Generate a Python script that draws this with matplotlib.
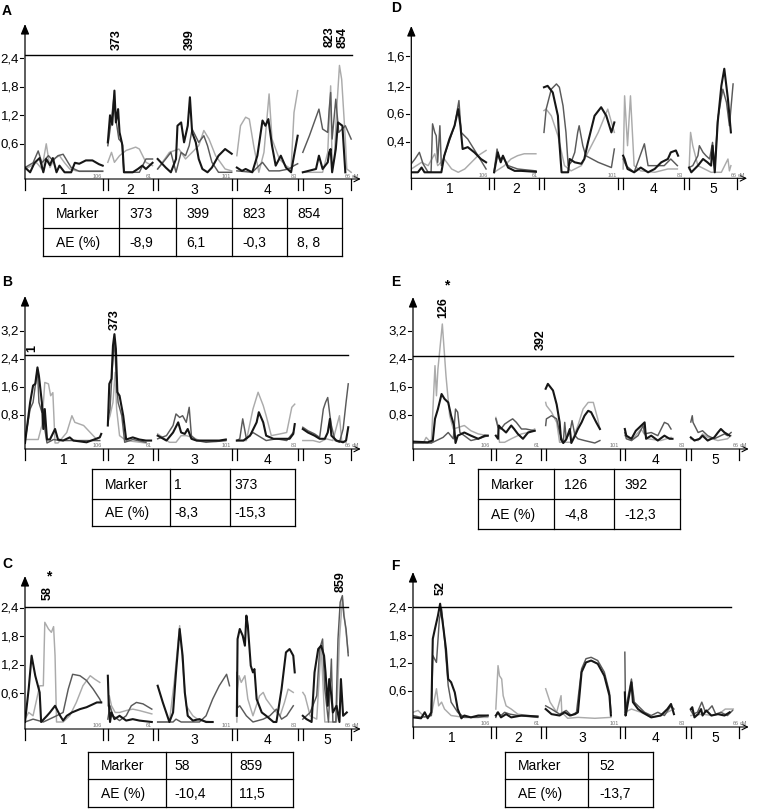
import matplotlib.pyplot as plt
import numpy as np

plt.rcParams['font.family'] = ['Liberation Sans', 'DejaVu Sans']

W, H = 757, 812
PX_CM = 0.733            # pixels per cM on every x axis
CHR_LEN = [106, 61, 101, 83, 66]
GAP = 7
CHR_OFF = [sum(CHR_LEN[:i]) + GAP * i for i in range(5)]

COL = {'k': '#161616', 'd': '#5a5a5a', 'l': '#ababab'}
LWS = {'k': 1.5, 'd': 1.05, 'l': 1.05}

# ---- LOD profiles: one list of (cM, LOD) per chromosome, three traits per panel
A_k = [
    [(0, 0.1), (7, 0), (13, 0.2), (20, 0.3), (25, 0), (29, 0.28), (34, 0.15), (38, 0.3), (43, 0), (47, 0.14), (54, 0), (63, 0), (68, 0.2), (74, 0.18), (83, 0.25), (92, 0.25), (101, 0.17), (106, 0.14)],
    [(0, 0.63), (3, 1.2), (6, 1.0), (9, 1.72), (11, 1.05), (14, 1.33), (16, 0.84), (20, 0.56), (22, 0), (34, 0), (41, 0.07), (47, 0.14), (52, 0.07), (61, 0.2)],
    [(0, 0.28), (11, 0.1), (18, 0), (25, 0.28), (27, 0.98), (32, 1.05), (36, 0.63), (41, 0.98), (44, 1.58), (47, 0.84), (52, 0.63), (56, 0.28), (61, 0.07), (68, 0), (74, 0.1), (83, 0.35), (92, 0.49), (101, 0.39)],
    [(0, 0.1), (7, 0.03), (12, 0.07), (21, 0), (28, 0.35), (35, 1.09), (39, 0.98), (43, 1.12), (48, 0.56), (53, 0.14), (60, 0.35), (67, 0.1), (74, 0), (78, 0.35), (83, 0.77)],
    [(0, 0), (18, 0.07), (22, 0.35), (27, 0.07), (34, 0.21), (36, 0.42), (38, 0.49), (40, 0), (45, 0.49), (48, 1.05), (54, 0.98), (58, 0)],
]
A_d = [
    [(0, 0.1), (11, 0.2), (18, 0.45), (23, 0.2), (32, 0.35), (38, 0.25), (45, 0.35), (52, 0.38), (59, 0.2), (63, 0.1), (74, 0.02), (106, 0.02)],
    [(0, 0.56), (5, 1.12), (8, 1.54), (11, 1.12), (15, 0.7), (19, 0.63), (22, 0), (31, 0), (43, 0), (52, 0.28), (61, 0.28)],
    [(0, 0.07), (11, 0.28), (18, 0.42), (25, 0), (32, 0.42), (38, 0.35), (43, 0.56), (47, 0.91), (56, 0.63), (63, 0.77), (68, 0.56), (74, 0.21), (83, 0), (101, 0)],
    [(0, 0.03), (21, 0), (35, 0.21), (44, 0.03), (58, 0.03), (71, 0.07), (78, 0.14), (83, 0.18)],
    [(0, 0.42), (9, 0.77), (22, 1.33), (27, 0.91), (34, 0.84), (36, 1.33), (38, 1.68), (40, 0.7), (45, 1.54), (49, 0.84), (58, 0.98), (66, 0.7)],
]
A_l = [
    [(0, 0.07), (9, 0.14), (16, 0.2), (23, 0.07), (29, 0.6), (34, 0.1), (41, 0.3), (47, 0.35), (54, 0.2), (61, 0.07), (70, 0.03), (106, 0.03)],
    [(0, 0.21), (5, 0.42), (9, 0.21), (16, 0.35), (25, 0.46), (38, 0.53), (43, 0.49), (52, 0.21), (61, 0.14)],
    [(0, 0.07), (16, 0.42), (29, 0.49), (38, 0.28), (56, 0.56), (63, 0.88), (70, 0.7), (79, 0.35), (92, 0.07), (101, 0.03)],
    [(0, 0.35), (5, 0.98), (12, 1.16), (17, 1.12), (23, 0.56), (30, 0), (37, 0.42), (44, 1.65), (48, 0.7), (58, 0.28), (67, 0.14), (74, 0.07), (78, 1.26), (83, 1.72)],
    [(0, 0), (27, 0), (34, 0.42), (38, 1.82), (40, 0.14), (43, 0.28), (46, 1.26), (50, 2.25), (53, 1.96), (58, 0.7), (60, 0.07), (66, 0)],
]

B_k = [
    [(0, 0), (7, 1.16), (11, 1.64), (14, 1.69), (17, 2.16), (19, 1.92), (23, 1.16), (25, 0.4), (27, 0.97), (30, 0.1), (34, 0.1), (41, 0.4), (45, 0.1), (52, 0.07), (61, 0.16), (66, 0.07), (84, 0.02), (102, 0.16), (104, 0.26)],
    [(0, 0.5), (2, 1.69), (5, 1.83), (7, 2.78), (9, 3.11), (11, 2.69), (13, 1.45), (16, 1.35), (21, 0.78), (25, 0.1), (34, 0.16), (43, 0.1), (52, 0.07), (59, 0.07)],
    [(0, 0.21), (12, 0.07), (21, 0.3), (28, 0.59), (32, 0.3), (37, 0.26), (41, 0.4), (46, 0.12), (53, 0.07), (66, 0.07), (84, 0.07), (93, 0.1)],
    [(0, 0.07), (9, 0.07), (18, 0.21), (27, 0.59), (30, 0.88), (36, 0.59), (40, 0.21), (50, 0.12), (63, 0.12), (72, 0.12), (77, 0.26), (79, 0.54)],
    [(0, 0.4), (7, 0.3), (16, 0.21), (23, 0.12), (30, 0.12), (34, 0.3), (37, 0.69), (39, 0.21), (46, 0.07), (55, 0.02), (59, 0.07), (62, 0.45)],
]
B_d = [
    [(0, 0.07), (7, 0.97), (11, 1.16), (17, 2.11), (19, 1.16), (23, 0.88), (25, 0.97), (27, 0.4), (30, 0), (39, 0.1), (48, 0.07), (102, 0.07)],
    [(0, 0.69), (3, 0.97), (6, 2.11), (9, 2.97), (11, 2.11), (14, 1.16), (19, 0.78), (23, 0.02), (34, 0.1), (52, 0.02)],
    [(0, 0.12), (12, 0.21), (21, 0.5), (25, 0.83), (30, 0.73), (34, 0.78), (39, 0.59), (43, 1.02), (46, 0.21), (53, 0.07), (66, 0.02), (93, 0.07)],
    [(0, 0.07), (4, 0.12), (8, 0.69), (13, 0.12), (22, 0.3), (29, 0.21), (40, 0.07), (54, 0.12), (68, 0.07), (77, 0.3)],
    [(0, 0.45), (7, 0.35), (16, 0.26), (23, 0.16), (28, 0.97), (31, 1.16), (34, 1.3), (37, 0.78), (39, 0.5), (44, 0.07), (50, 0.02), (55, 0.4), (59, 1.16), (62, 1.69)],
]
B_l = [
    [(0, 0.1), (11, 0.1), (18, 0.1), (23, 0.5), (27, 1.73), (32, 1.69), (35, 1.35), (38, 1.44), (41, 0), (45, 0), (57, 0.3), (64, 0.78), (68, 0.59), (80, 0.5), (89, 0.3), (98, 0.1)],
    [(0, 0.59), (3, 0.78), (7, 1.16), (10, 2.02), (12, 0.97), (16, 0.21), (25, 0.07), (52, 0)],
    [(0, 0.26), (7, 0.16), (16, 0.02), (25, 0.02), (32, 0.21), (39, 0.21), (48, 0.16), (57, 0.07), (80, 0.04), (93, 0.07)],
    [(0, 0.07), (13, 0.07), (22, 0.97), (29, 1.45), (36, 1.07), (40, 0.78), (47, 0.21), (59, 0.26), (68, 0.3), (75, 1.02), (79, 1.11)],
    [(0, 0.07), (14, 0.07), (23, 0.02), (32, 0.12), (41, 0.07), (50, 0.78), (53, 0.07), (59, 0.02)],
]

C_k = [
    [(0, 0), (5, 0.69), (9, 1.39), (14, 0.97), (20, 0.62), (22, 0), (30, 0.13), (34, 0.2), (41, 0.34), (48, 0.13), (52, 0.03), (57, 0.13), (64, 0.2), (75, 0.27), (84, 0.31), (98, 0.41), (104, 0.41)],
    [(0, 0.97), (1, 0.48), (3, 0), (5, 0.2), (9, 0.06), (16, 0.13), (25, 0.03), (34, 0.06), (43, 0.03), (60, 0)],
    [(0, 0.76), (7, 0.41), (16, 0), (21, 0.2), (25, 1.04), (30, 1.95), (34, 1.39), (37, 0.62), (41, 0.13), (48, 0.03), (57, 0.06), (66, 0), (75, 0)],
    [(0, 0.13), (1, 1.74), (4, 1.95), (8, 1.81), (11, 1.6), (13, 2.23), (15, 2.02), (19, 1.18), (22, 1.04), (24, 1.11), (27, 0.48), (34, 0.2), (40, 0.13), (50, 0), (54, 0), (61, 0.69), (67, 1.46), (72, 1.53), (77, 1.39), (79, 1.04)],
    [(0, 0.13), (5, 0.06), (12, 0), (16, 1.04), (21, 1.53), (25, 1.6), (29, 1.39), (31, 1.04), (34, 0.34), (36, 0.9), (39, 0.55), (41, 0.2), (46, 0.34), (50, 0), (52, 0.9), (55, 0.13), (60, 0.2)],
]
C_d = [
    [(0, 0), (11, 0.06), (25, 0), (43, 0.13), (52, 0.2), (59, 0.69), (65, 1.0), (75, 0.97), (84, 0.87), (93, 0.69), (102, 0.48), (104, 0.41)],
    [(0, 0.06), (3, 0.34), (7, 0.13), (16, 0.03), (25, 0.13), (32, 0.34), (39, 0.41), (48, 0.38), (60, 0.27)],
    [(0, 0), (21, 0), (25, 0.06), (32, 0), (57, 0), (66, 0.13), (75, 0.48), (84, 0.76), (94, 1.0), (98, 0.76)],
    [(0, 1.04), (1, 0.3), (4, 0.34), (13, 0.13), (22, 0), (36, 0.06), (45, 0.13), (54, 0.27), (61, 0.06), (68, 0.13), (77, 0.34)],
    [(0, 0.06), (10, 0.2), (19, 0.55), (23, 1.53), (27, 1.74), (30, 0.69), (35, 0), (39, 1.32), (41, 0), (45, 0), (48, 1.74), (51, 2.51), (54, 2.65), (56, 2.23), (59, 1.95), (62, 1.39)],
]
C_l = [
    [(0, 0.06), (5, 0.2), (11, 0.13), (20, 0.76), (25, 0.76), (27, 2.09), (32, 1.95), (36, 1.88), (39, 2.0), (41, 1.39), (43, 0), (52, 0), (61, 0.13), (70, 0.41), (79, 0.76), (89, 0.97), (95, 0.9), (102, 0.83)],
    [(0, 0.34), (2, 0.55), (5, 0.34), (10, 0.2), (16, 0.2), (25, 0.24), (34, 0.27), (43, 0.24), (60, 0.17)],
    [(0, 0), (16, 0), (23, 0.9), (30, 2.02), (35, 1.04), (39, 0.34), (48, 0.13), (57, 0.03), (75, 0)],
    [(0, 0), (1, 0.69), (3, 0.97), (6, 0.83), (11, 0.97), (15, 0.48), (22, 0.13), (31, 0.55), (36, 0.62), (40, 0.48), (50, 0.27), (59, 0.13), (65, 0.41), (70, 0.69), (77, 0.62)],
    [(0, 0.62), (3, 0.55), (10, 0.13), (19, 0.06), (25, 1.6), (30, 0), (46, 0), (50, 1.74), (54, 2.58), (60, 1.74), (62, 1.46)],
]

# panel D is on its own (unequal) tick scale; values are in tick-position units
D_k = [
    [(0, 0), (9, 0), (14, 0.1), (18, 0), (41, 0), (45, 0.35), (52, 0.7), (59, 0.98), (64, 1.33), (67, 0.98), (70, 0.49), (77, 0.53), (86, 0.42), (95, 0.28), (102, 0.21)],
    [(0, 0), (5, 0.42), (9, 0.21), (12, 0.35), (19, 0.1), (28, 0.03), (37, 0.03), (57, 0.01)],
    [(0, 1.79), (5, 1.82), (12, 1.68), (19, 1.19), (21, 0.63), (24, 0), (33, 0), (35, 0.28), (42, 0.21), (51, 0.18), (55, 0.28), (60, 0.63), (69, 1.19), (78, 1.37), (85, 1.19), (92, 0.84), (96, 1.05)],
    [(0, 0.35), (2, 0.28), (6, 0.07), (15, 0), (24, 0.1), (34, 0), (43, 0.07), (52, 0.21), (61, 0.28), (65, 0.42), (72, 0.46), (75, 0.35)],
    [(0, 0.1), (3, 0), (12, 0.14), (19, 0.28), (25, 0.21), (30, 0.14), (32, 0.56), (35, 0), (39, 1.05), (44, 1.82), (48, 2.18), (53, 1.54), (57, 0.84)],
]
D_d = [
    [(0, 0.18), (5, 0.28), (11, 0.42), (16, 0.18), (23, 0), (27, 0), (29, 1.02), (32, 0.84), (34, 0.77), (36, 0.21), (39, 0.98), (41, 0.14), (45, 0.35), (59, 0.98), (65, 1.51), (68, 0.84), (77, 0.7), (91, 0.35), (102, 0.07)],
    [(0, 0.03), (4, 0.49), (7, 0.28), (12, 0.32), (19, 0.14), (32, 0.07), (57, 0.03)],
    [(0, 0.84), (3, 1.33), (10, 1.75), (17, 1.86), (21, 1.79), (26, 1.4), (30, 0.84), (33, 0.14), (37, 0.21), (42, 0.42), (46, 0.84), (48, 0.98), (53, 0.56), (57, 0.35), (74, 0.21), (92, 0.1), (96, 0.49)],
    [(0, 0.28), (4, 0.14), (15, 0), (29, 0.6), (34, 0.14), (43, 0.14), (56, 0.14), (65, 0.28), (74, 0.14)],
    [(0, 0.1), (5, 0.14), (12, 0.35), (14, 0.56), (19, 0.42), (23, 0.35), (28, 0.28), (32, 0.63), (35, 0.07), (39, 1.12), (46, 1.75), (51, 1.47), (55, 0.98), (60, 1.86)],
]
D_l = [
    [(0, 0.07), (14, 0.21), (23, 0.14), (32, 0.39), (36, 0.14), (45, 0.28), (55, 0.07), (64, 0), (73, 0.07), (82, 0.21), (91, 0.35), (102, 0.46)],
    [(0, 0), (14, 0.14), (23, 0.28), (32, 0.35), (41, 0.39), (57, 0.39)],
    [(0, 1.3), (3, 1.33), (10, 1.19), (19, 0.77), (28, 0.14), (37, 0.03), (51, 0.14), (60, 0.42), (74, 0.84), (87, 1.33), (96, 0.84)],
    [(0, 0.07), (2, 1.61), (6, 0.56), (10, 1.61), (15, 0.14), (24, 0.03), (43, 0), (61, 0.07), (74, 0.07)],
    [(0, 0.07), (2, 0.84), (5, 0.56), (12, 0.14), (30, 0), (44, 0), (53, 0.28), (55, 0.03), (57, 0.14)],
]

E_k = [
    [(0, 0.04), (20, 0.02), (27, 0.07), (30, 0.69), (34, 0.97), (39, 1.4), (43, 1.26), (48, 1.16), (52, 0.78), (56, 0.5), (58, 0), (61, 0.21), (70, 0.3), (79, 0.21), (89, 0.12), (98, 0.21), (102, 0.21)],
    [(0, 0.21), (3, 0.12), (4, 0.5), (6, 0.45), (14, 0.3), (21, 0.5), (25, 0.4), (30, 0.26), (37, 0.12), (44, 0.3), (53, 0.35)],
    [(0, 1.55), (3, 1.69), (10, 1.5), (15, 1.1), (19, 0.6), (21, 0.1), (24, 0), (28, 0.1), (33, 0.4), (35, 0), (40, 0.21), (44, 0.4), (49, 0.59), (53, 0.78), (58, 0.92), (62, 0.88), (69, 0.59), (74, 0.4)],
    [(0, 0.4), (2, 0.21), (9, 0.12), (15, 0.35), (27, 0.59), (29, 0.12), (36, 0.21), (45, 0.07), (54, 0.21), (61, 0.12), (65, 0.12)],
    [(0, 0.16), (5, 0.07), (12, 0.12), (16, 0.21), (23, 0.07), (28, 0.12), (32, 0.16), (37, 0.3), (41, 0.4), (46, 0.3), (53, 0.21)],
]
E_d = [
    [(0, 0), (25, 0), (32, 0.07), (41, 0.16), (48, 0.3), (55, 0.12), (58, 0.97), (61, 0.88), (64, 0.3), (70, 0.21), (79, 0.07), (89, 0.12), (102, 0.21)],
    [(0, 0.69), (3, 0.45), (7, 0.4), (12, 0.54), (19, 0.64), (23, 0.69), (28, 0.59), (35, 0.4), (41, 0.4), (53, 0.35)],
    [(0, 0.5), (1, 0.69), (8, 0.78), (15, 0.69), (19, 0.3), (24, 0), (26, 0.59), (28, 0.12), (33, 0.3), (36, 0.64), (40, 0.21), (44, 0.12), (53, 0.07), (67, 0), (74, 0.07)],
    [(0, 0.3), (2, 0.12), (9, 0.07), (18, 0.21), (25, 0.5), (27, 0.26), (36, 0.3), (45, 0.21), (54, 0.59), (59, 0.54), (63, 0.4)],
    [(0, 0.6), (2, 0.78), (3, 0.59), (10, 0.3), (16, 0.35), (23, 0.21), (32, 0.12), (46, 0.26), (50, 0.21), (55, 0.3)],
]
E_l = [
    [(0, 0), (14, 0), (18, 0.16), (25, 0), (30, 2.21), (32, 1.35), (34, 2.11), (40, 3.4), (45, 1.92), (50, 0.78), (55, 0.4), (70, 0.5), (79, 0.35), (89, 0.26), (102, 0.21)],
    [(0, 0.73), (2, 0.59), (5, 0.02), (12, 0.02), (21, 0.12), (35, 0.26), (44, 0.3), (53, 0.4)],
    [(0, 1.16), (1, 1.07), (8, 0.88), (15, 0.59), (19, 0.02), (35, 0.02), (44, 0.5), (51, 0.97), (58, 1.16), (65, 1.16), (71, 0.69), (74, 0.4)],
    [(0, 0.21), (9, 0.07), (22, 0.4), (31, 0.12), (49, 0.07), (63, 0.16)],
    [(0, 0.12), (10, 0.07), (16, 0.26), (23, 0.16), (37, 0.07), (50, 0.12), (55, 0.21)],
]

F_k = [
    [(0, 0.02), (11, 0), (16, 0.13), (20, 0), (25, 0.13), (27, 1.72), (30, 1.94), (34, 2.22), (37, 2.48), (41, 2.01), (45, 1.5), (48, 0.85), (52, 0.78), (57, 0.56), (61, 0.2), (66, 0), (70, 0.06), (79, 0.02), (89, 0.06), (102, 0.06)],
    [(0, 0.06), (3, 0.13), (7, 0.02), (14, 0.09), (21, 0.02), (35, 0.06), (57, 0.04)],
    [(0, 0.2), (8, 0.09), (19, 0.06), (26, 0.13), (33, 0.06), (40, 0.09), (44, 0.13), (49, 1.0), (55, 1.21), (62, 1.25), (71, 1.18), (80, 0.92), (87, 0.49), (89, 0.06)],
    [(0, 0.56), (1, 0.06), (2, 0.13), (9, 0.78), (11, 0.35), (18, 0.2), (24, 0.13), (36, 0.02), (49, 0.06), (58, 0.2), (63, 0.31), (67, 0.09)],
    [(0, 0.2), (2, 0.24), (5, 0.02), (10, 0.09), (14, 0.2), (16, 0.06), (21, 0.17), (28, 0.06), (37, 0.09), (46, 0.06), (53, 0.13)],
]
F_d = [
    [(0, 0.06), (11, 0.02), (25, 0.06), (27, 1.36), (32, 1.21), (36, 2.15), (39, 2.37), (43, 1.72), (48, 0.71), (52, 0.35), (61, 0.13), (70, 0.02), (89, 0.02), (102, 0.06)],
    [(0, 0.02), (2, 0.13), (7, 0.06), (12, 0.13), (19, 0.09), (30, 0.06), (57, 0.02)],
    [(0, 0.27), (8, 0.2), (19, 0.09), (28, 0.17), (35, 0.06), (42, 0.13), (49, 1.07), (55, 1.29), (62, 1.32), (71, 1.25), (80, 1.0), (87, 0.56), (89, 0.13)],
    [(0, 1.43), (1, 0.06), (2, 0.27), (9, 0.85), (13, 0.35), (18, 0.27), (27, 0.13), (36, 0.06), (45, 0.13), (54, 0.06), (63, 0.27), (67, 0.2)],
    [(0, 0.17), (3, 0.09), (9, 0.13), (15, 0.35), (20, 0.13), (25, 0.2), (29, 0.27), (34, 0.09), (41, 0.13), (50, 0.06), (57, 0.17)],
]
F_l = [
    [(0, 0.13), (7, 0.17), (16, 0.02), (25, 0.06), (32, 0.64), (35, 0.27), (39, 0.35), (43, 0.2), (52, 0.06), (70, 0.02), (102, 0.02)],
    [(0, 0.2), (3, 1.14), (5, 0.92), (8, 0.85), (10, 0.49), (14, 0.27), (21, 0.2), (30, 0.09), (44, 0.06), (57, 0.04)],
    [(0, 0.64), (6, 0.35), (15, 0.13), (21, 0.49), (22, 0.13), (30, 0), (44, 0.02), (67, 0), (89, 0.02)],
    [(0, 0.13), (9, 0.2), (22, 0.13), (36, 0.02), (49, 0.06), (63, 0.17)],
    [(0, 0.06), (16, 0.09), (29, 0.06), (38, 0.09), (47, 0.2), (58, 0.2)],
]

# ---- tables under the panels
A_markers, A_ae = ['373', '399', '823', '854'], ['-8,9', '6,1', '-0,3', '8, 8']
B_markers, B_ae = ['1', '373'], ['-8,3', '-15,3']
C_markers, C_ae = ['58', '859'], ['-10,4', '11,5']
E_markers, E_ae = ['126', '392'], ['-4,8', '-12,3']
F_markers, F_ae = ['52'], ['-13,7']

fig = plt.figure(figsize=(W / 100, H / 100), dpi=100)


def panel(x0, top, axis_y, zero_y, ppu, curves, ticks, labels,
          thr=None, thr_end=None, marks=(), stars=()):
    bottom = axis_y + 24
    ax = fig.add_axes([x0 / W, 1 - bottom / H, 462 * PX_CM / W, (bottom - top) / H])
    ax.set_xlim(0, 462)
    ax.set_ylim((zero_y - bottom) / ppu, (zero_y - top) / ppu)
    ax.axis('off')
    py = 1.0 / ppu
    px = 1.0 / PX_CM
    ya = (zero_y - axis_y) / ppu
    ytop = (zero_y - top) / ppu

    for key in ['l', 'd', 'k']:
        for off, seg in zip(CHR_OFF, curves[key]):
            ax.plot([off + c for c, v in seg], [v for c, v in seg],
                    color=COL[key], lw=LWS[key], solid_joinstyle='round')

    # axes with arrow heads
    ax.annotate('', xy=(0, ytop), xytext=(0, ya), annotation_clip=False,
                arrowprops=dict(arrowstyle='-|>,head_length=0.6,head_width=0.25',
                                color='k', lw=0.9, shrinkA=0, shrinkB=0, mutation_scale=10))
    ax.annotate('', xy=(458, ya), xytext=(0, ya), annotation_clip=False,
                arrowprops=dict(arrowstyle='->,head_length=0.4,head_width=0.2',
                                color='k', lw=0.8, shrinkA=0, shrinkB=0, mutation_scale=10))
    for v, lab in zip(ticks, labels):
        ax.plot([-5 * px, -2 * px], [v, v], color='k', lw=0.8, clip_on=False)
        ax.text(-6 * px, v, lab, ha='right', va='center', fontsize=9.5)

    # chromosome borders, numbers and lengths
    for i, (off, ln) in enumerate(zip(CHR_OFF, CHR_LEN)):
        for b in (off, off + ln):
            ax.plot([b, b], [ya, ya - 11 * py], color='k', lw=0.9, clip_on=False)
        ax.text(off + ln / 2, ya - 10 * py, str(i + 1), ha='center', va='center', fontsize=10)
        ax.text(off + ln - 1, ya + 1.5 * py, str(ln), ha='right', va='bottom',
                fontsize=4, color='#777777')
    ax.text(CHR_OFF[-1] + CHR_LEN[-1] + 1, ya + 1.5 * py, 'cM', ha='left', va='bottom',
            fontsize=4, color='#777777')

    if thr is not None:
        ax.plot([0, thr_end], [thr, thr], color='k', lw=1.0)
    for lab, x, y in marks:
        ax.text(x, y, lab, rotation=90, ha='center', va='bottom', fontsize=9,
                fontweight='bold', clip_on=False)
    for x, y in stars:
        ax.text(x, y, '*', ha='center', va='center', fontsize=10, fontweight='bold')
    return ax


TK6, LB6 = [0.6, 1.2, 1.8, 2.4], ['0,6', '1,2', '1,8', '2,4']
TK8, LB8 = [0.8, 1.6, 2.4, 3.2], ['0,8', '1,6', '2,4', '3,2']

panel(25, 25, 180, 173.3, 47.5, {'k': A_k, 'd': A_d, 'l': A_l}, TK6, LB6,
      thr=2.46, thr_end=446,
      marks=[('373', 125, 2.6), ('399', 225, 2.6), ('823', 416, 2.66), ('854', 434, 2.64)])
panel(411.3, 27, 179.3, 173.3, 47.5, {'k': D_k, 'd': D_d, 'l': D_l},
      [0.64, 1.23, 1.8, 2.44], ['0,4', '0,6', '1,2', '1,6'])
panel(25, 297, 450, 444, 35, {'k': B_k, 'd': B_d, 'l': B_l}, TK8, LB8,
      thr=2.51, thr_end=441, marks=[('1', 9.5, 2.63), ('373', 123, 3.26)])
panel(413, 298, 450, 444, 35, {'k': E_k, 'd': E_d, 'l': E_l}, TK8, LB8,
      thr=2.49, thr_end=436, marks=[('126', 41, 3.6), ('392', 174.6, 2.69)],
      stars=[(45.4, 4.54)])
panel(25, 577, 730, 723, 47.7, {'k': C_k, 'd': C_d, 'l': C_l}, TK6, LB6,
      thr=2.41, thr_end=441, marks=[('58', 31, 2.58), ('859', 430, 2.75)],
      stars=[(33, 3.08)])
panel(413, 573, 728, 719.3, 46.2, {'k': F_k, 'd': F_d, 'l': F_l}, TK6, LB6,
      thr=2.41, thr_end=434, marks=[('52', 38, 2.69)])

# ---- overlay in pixel coordinates: panel letters and tables
ov = fig.add_axes([0, 0, 1, 1])
ov.set_xlim(0, W)
ov.set_ylim(H, 0)
ov.axis('off')

for letter, x, y in [('A', 2, 11), ('B', 2, 282), ('C', 2, 564),
                     ('D', 391, 8), ('E', 391, 282), ('F', 391, 566)]:
    ov.text(x, y, letter, fontsize=10, fontweight='bold', ha='left', va='center')


def table(cols, rows, markers, ae, pad=10):
    for y in rows:
        ov.plot([cols[0], cols[-1]], [y, y], color='k', lw=0.9)
    for x in cols:
        ov.plot([x, x], [rows[0], rows[-1]], color='k', lw=0.9)
    for r, cells in enumerate([['Marker'] + markers, ['AE (%)'] + ae]):
        yc = (rows[r] + rows[r + 1]) / 2
        for c, txt in enumerate(cells):
            ov.text(cols[c] + (13 if c == 0 else pad), yc, txt, ha='left', va='center', fontsize=10)


table([43, 119, 176, 232, 287, 342], [199, 229, 257], A_markers, A_ae)
table([92, 170, 230, 295], [470, 500, 527], B_markers, B_ae, pad=4)
table([478, 554, 614, 680], [470, 500, 530], E_markers, E_ae)
table([88, 166, 231, 293], [753, 780, 808], C_markers, C_ae, pad=8)
table([505, 588, 653], [753, 780, 808], F_markers, F_ae, pad=11)

fig.savefig('out.png', dpi=100, facecolor='white')
